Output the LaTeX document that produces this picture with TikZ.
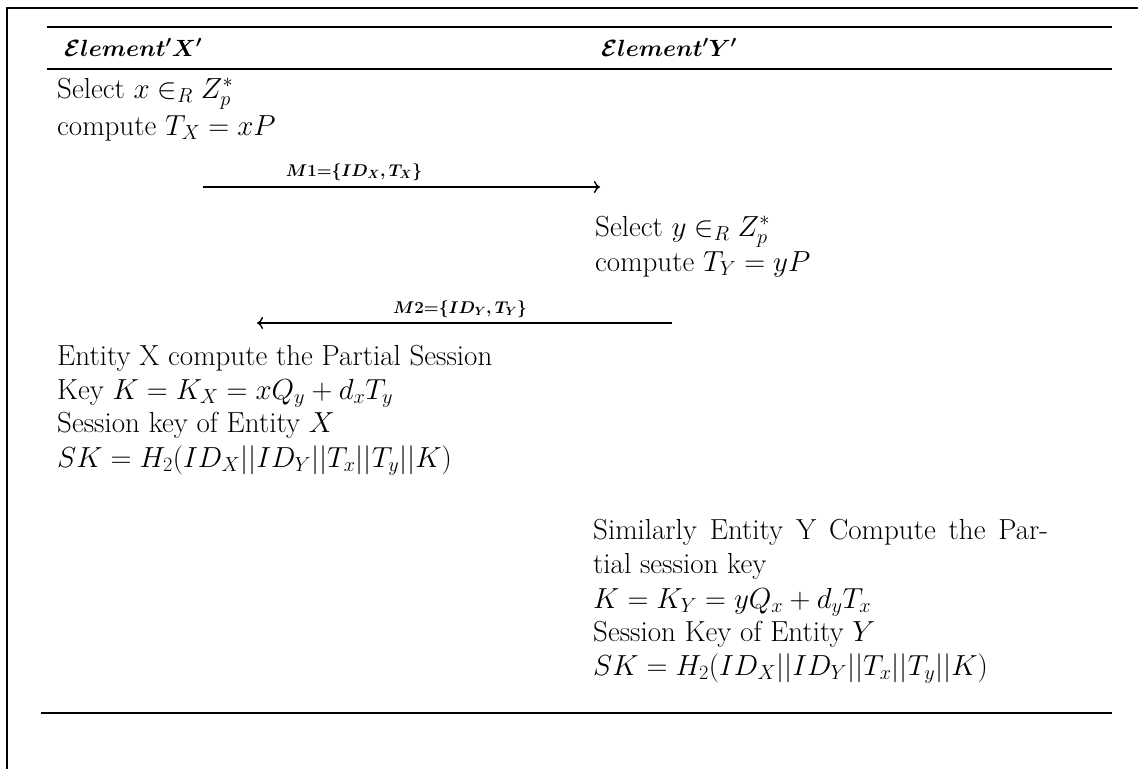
\RequirePackage{fix-cm}
\documentclass[tikz,border=0pt]{standalone}
\usetikzlibrary{arrows.meta}
\tikzset{
  txt/.style={anchor=base west, inner sep=0pt, font=\fontsize{29}{34}\selectfont},
  hdr/.style={anchor=base west, inner sep=0pt, font=\fontsize{23.5}{28}\selectfont\boldmath},
  lbl/.style={anchor=base, inner sep=0pt, font=\fontsize{17}{20}\selectfont\boldmath},
  tabrule/.style={line width=2pt},
  framestroke/.style={line width=1.6pt},
  msg/.style={line width=1.4pt, -{To[length=6pt,width=12pt]}}
}
\begin{document}
\begin{tikzpicture}[x=1pt,y=-1pt]
\useasboundingbox (0,0) rectangle (1138,769);
% outer frame
\coordinate (fb) at (7,769);
\coordinate (ftl) at (7,8);
\coordinate (ftr) at (1138,8);
\draw[framestroke] (fb) -- (ftl) -- (ftr);
% table rules
\coordinate (r1a) at (47,27);  \coordinate (r1b) at (1112,27);
\coordinate (r2a) at (47,69);  \coordinate (r2b) at (1112,69);
\coordinate (r3a) at (41,713); \coordinate (r3b) at (1112,713);
\draw[tabrule] (r1a) -- (r1b);
\draw[tabrule] (r2a) -- (r2b);
\draw[tabrule] (r3a) -- (r3b);
% headers
\node[hdr] (hx) at (64,56) {$\mathcal{E}lement'X'$};
\node[hdr] (hy) at (601,56) {$\mathcal{E}lement'Y'$};
% X side, first step
\node[txt] (sx) at (57,98) {Select $x \in_R Z_p^*$};
\node[txt] (cx) at (57,135) {compute $T_X = xP$};
% message 1
\coordinate (m1a) at (203,187);
\coordinate (m1b) at (600,187);
\draw[msg] (m1a) -- (m1b);
\node[lbl] (m1) at (354,176) {$M1{=}\{ID_X,T_X\}$};
% Y side, first step
\node[txt] (sy) at (595,236) {Select $y \in_R Z_p^*$};
\node[txt] (cy) at (595,271) {compute $T_Y = yP$};
% message 2
\coordinate (m2a) at (672,323);
\coordinate (m2b) at (257,323);
\draw[msg] (m2a) -- (m2b);
\node[lbl] (m2) at (460,313) {$M2{=}\{ID_Y,T_Y\}$};
% X side, key
\node[txt] (ex1) at (57,365) {Entity X compute the Partial Session};
\node[txt] (ex2) at (57,399) {Key $K = K_X = xQ_y + d_xT_y$};
\node[txt] (ex3) at (57,432) {Session key of Entity $X$};
\node[txt] (ex4) at (57,467) {$SK = H_2(ID_X||ID_Y||T_x||T_y||K)$};
% Y side, key
\node[txt] (ey1) at (593,539) {\makebox[455pt][s]{Similarly Entity Y Compute the Par-}};
\node[txt] (ey2) at (593,573) {tial session key};
\node[txt] (ey3) at (593,608) {$K = K_Y = yQ_x + d_yT_x$};
\node[txt] (ey4) at (593,641) {Session Key of Entity $Y$};
\node[txt] (ey5) at (593,675) {$SK = H_2(ID_X||ID_Y||T_x||T_y||K)$};
\end{tikzpicture}
\end{document}
